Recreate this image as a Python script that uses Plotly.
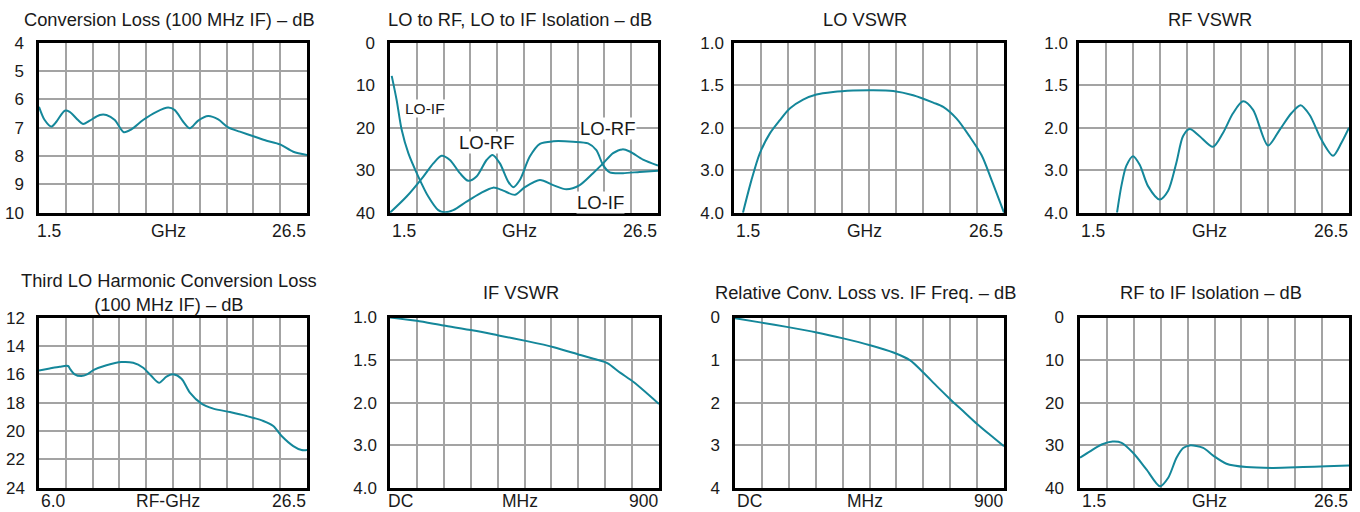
import numpy as np
import plotly.graph_objects as go

# ---------------- data ----------------
# 1) Conversion loss (dB) vs GHz
cl_ghz = [1.5, 2.03, 2.65, 3.12, 3.90, 4.36, 5.14, 5.61, 6.23, 7.17, 7.79, 8.57, 9.41, 10.12,
          11.21, 12.46, 13.55, 14.17, 14.95, 15.57, 16.35, 17.28, 18.22, 19.15, 20.24, 21.64,
          22.73, 23.98, 25.22, 26.5]
cl_db = [6.26, 6.73, 6.96, 6.79, 6.40, 6.44, 6.73, 6.87, 6.75, 6.55, 6.55, 6.73, 7.16, 7.06,
         6.73, 6.44, 6.29, 6.38, 6.79, 7.02, 6.75, 6.59, 6.71, 6.99, 7.14, 7.32, 7.46, 7.59,
         7.85, 7.96]

# 2) LO-IF and LO-RF isolation (dB) vs GHz
loif_ghz = [1.66, 2.12, 2.59, 3.21, 4.14, 5.07, 6.0, 6.62, 7.4, 8.64, 9.88, 11.13, 12.06, 13.15,
            14.08, 15.48, 16.72, 17.96, 19.2, 20.44, 21.38, 22.31, 23.18, 23.86, 25.1, 26.5]
loif_db = [7.8, 13.5, 20.5, 26.0, 31.5, 36.2, 39.4, 39.9, 39.4, 37.4, 35.5, 34.1, 34.8, 35.8,
           34.0, 32.3, 33.5, 34.5, 33.5, 30.7, 28.4, 26.0, 25.1, 25.6, 27.5, 28.9]
lorf_ghz = [1.5, 3.05, 4.61, 5.54, 6.31, 7.09, 8.02, 8.8, 9.57, 10.51, 11.07, 11.75, 12.53, 13.0,
            13.61, 14.54, 15.48, 16.72, 18.58, 19.98, 20.75, 21.38, 22.0, 23.24, 24.79, 26.5]
lorf_db = [40.0, 36.2, 31.5, 28.4, 26.6, 27.6, 30.7, 32.5, 31.5, 27.6, 26.4, 28.4, 32.7, 34.0,
           32.3, 26.8, 23.8, 23.2, 23.3, 23.7, 25.3, 28.8, 30.5, 30.7, 30.4, 30.1]

# 3) LO VSWR vs GHz
lov_ghz = [2.33, 3.11, 3.88, 4.81, 5.73, 6.66, 7.90, 9.13, 10.68, 12.53, 14.23, 16.24, 18.09,
           19.95, 20.87, 22.11, 23.35, 24.43, 25.36, 26.5]
lov_vswr = [4.0, 3.24, 2.61, 2.14, 1.915, 1.775, 1.67, 1.61, 1.58, 1.563, 1.559, 1.567, 1.618,
            1.705, 1.756, 1.894, 2.22, 2.65, 3.24, 4.0]

# 4) RF VSWR vs GHz
rfv_ghz = [5.02, 5.42, 5.88, 6.5, 7.12, 7.89, 8.97, 9.74, 10.51, 11.13, 11.75, 12.67, 13.91,
           14.83, 15.76, 16.69, 17.62, 19.0, 20.08, 21.16, 22.02, 22.86, 23.94, 25.02, 25.79, 26.5]
rfv_vswr = [4.0, 3.375, 2.9, 2.67, 2.87, 3.375, 3.69, 3.49, 2.83, 2.2, 2.03, 2.2, 2.45, 2.125,
            1.83, 1.69, 1.79, 2.42, 2.05, 1.83, 1.735, 1.85, 2.28, 2.66, 2.36, 2.0]

# 5) Third LO harmonic conversion loss (dB) vs RF GHz
h3_ghz = [6.0, 6.82, 7.58, 8.22, 8.40, 8.73, 9.24, 9.68, 10.19, 11.16, 12.31, 13.2, 13.97, 14.6,
          15.19, 15.75, 16.26, 16.9, 17.54, 18.43, 19.33, 20.6, 21.88, 23.16, 23.92, 24.56,
          25.45, 26.09, 26.5]
h3_db = [15.72, 15.58, 15.46, 15.41, 15.65, 16.0, 16.12, 16.0, 15.69, 15.36, 15.13, 15.18, 15.53,
         16.12, 16.59, 16.16, 16.0, 16.31, 17.29, 18.07, 18.42, 18.66, 18.94, 19.29, 19.65,
         20.35, 21.06, 21.34, 21.34]

# 6) IF VSWR vs MHz
ifv_mhz = [0, 89, 179, 280, 363, 458, 548, 637, 693, 727, 771, 816, 900]
ifv_vswr = [1.0, 1.039, 1.094, 1.152, 1.21, 1.277, 1.348, 1.44, 1.496, 1.535, 1.65, 1.76, 2.03]

# 7) Relative conversion loss (dB) vs IF MHz
rcl_mhz = [0, 89, 173, 273, 362, 452, 530, 585, 630, 675, 719, 764, 809, 853, 900]
rcl_db = [0.02, 0.12, 0.22, 0.35, 0.49, 0.65, 0.82, 1.0, 1.29, 1.61, 1.91, 2.2, 2.49, 2.75, 3.02]

# 8) RF to IF isolation (dB) vs GHz
rfif_ghz = [1.5, 2.43, 3.51, 4.53, 5.37, 6.45, 7.69, 8.93, 9.70, 10.47, 11.09, 11.71, 12.95,
            13.88, 15.11, 16.97, 19.45, 22.23, 24.39, 26.5]
rfif_db = [32.9, 31.4, 29.8, 29.1, 29.4, 31.8, 35.7, 39.6, 37.6, 32.9, 30.6, 30.0, 30.6, 32.4,
           34.3, 35.1, 35.3, 35.1, 34.9, 34.7]

# axis tick labels
vswr_ticks = [1.0, 1.5, 2.0, 3.0, 4.0]
vswr_labels = ["1.0", "1.5", "2.0", "3.0", "4.0"]

titles = ["Conversion Loss (100 MHz IF) – dB", "LO to RF, LO to IF Isolation – dB", "LO VSWR",
          "RF VSWR", "Third LO Harmonic Conversion Loss<br>(100 MHz IF) – dB", "IF VSWR",
          "Relative Conv. Loss vs. IF Freq. – dB", "RF to IF Isolation – dB"]
xlabels = [("1.5", "GHz", "26.5"), ("1.5", "GHz", "26.5"), ("1.5", "GHz", "26.5"),
           ("1.5", "GHz", "26.5"), ("6.0", "RF-GHz", "26.5"), ("DC", "MHz", "900"),
           ("DC", "MHz", "900"), ("1.5", "GHz", "26.5")]


def vswr_pos(v):
    # VSWR axis of the chart is evenly spaced between its labelled values
    return np.interp(v, vswr_ticks, list(range(len(vswr_ticks))))


# ---------------- layout geometry ----------------
W, H = 1360, 512
TEAL = "#14879a"
GRID = "#a3a3a3"
FONT = "Liberation Sans, Arial, sans-serif"
TXT = "#1a1a1a"


def px(x):
    return x / W


def py(y):
    return 1 - y / H


panels = [  # left, right, top, bottom in page px
    (39, 307, 42.7, 212.7),
    (390, 658, 42.7, 212.7),
    (734, 1004, 42.7, 212.7),
    (1079, 1349, 42.7, 212.7),
    (39, 307, 317.7, 487.7),
    (390, 659, 317.5, 488),
    (735, 1004, 317.5, 488),
    (1080, 1349, 317.5, 488),
]
ystandoff = [9, 9, 4, 5, 8, 7, 9, 10]

# x ranges & grids
ghz_range = [1.5, 26.5]
ghz_grid = list(np.linspace(1.5, 26.5, 11))
rf_range = [6.0, 26.5]
rf_grid = list(np.linspace(6.0, 26.5, 11))
mhz_range = [0, 900]
mhz_grid = list(np.linspace(0, 900, 11))

yspecs = [
    dict(range=[10, 4], tickvals=[4, 5, 6, 7, 8, 9, 10], ticktext=["4", "5", "6", "7", "8", "9", "10"]),
    dict(range=[40, 0], tickvals=[0, 10, 20, 30, 40], ticktext=["0", "10", "20", "30", "40"]),
    dict(range=[4, 0], tickvals=[0, 1, 2, 3, 4], ticktext=vswr_labels),
    dict(range=[4, 0], tickvals=[0, 1, 2, 3, 4], ticktext=vswr_labels),
    dict(range=[24, 12], tickvals=[12, 14, 16, 18, 20, 22, 24], ticktext=["12", "14", "16", "18", "20", "22", "24"]),
    dict(range=[4, 0], tickvals=[0, 1, 2, 3, 4], ticktext=vswr_labels),
    dict(range=[4, 0], tickvals=[0, 1, 2, 3, 4], ticktext=["0", "1", "2", "3", "4"]),
    dict(range=[40, 0], tickvals=[0, 10, 20, 30, 40], ticktext=["0", "10", "20", "30", "40"]),
]
xspecs = [
    (ghz_range, ghz_grid), (ghz_range, ghz_grid), (ghz_range, ghz_grid), (ghz_range, ghz_grid),
    (rf_range, rf_grid), (mhz_range, mhz_grid), (mhz_range, mhz_grid), (ghz_range, ghz_grid),
]

fig = go.Figure()

series = [
    [(cl_ghz, cl_db)],
    [(loif_ghz, loif_db), (lorf_ghz, lorf_db)],
    [(lov_ghz, vswr_pos(lov_vswr))],
    [(rfv_ghz, vswr_pos(rfv_vswr))],
    [(h3_ghz, h3_db)],
    [(ifv_mhz, vswr_pos(ifv_vswr))],
    [(rcl_mhz, rcl_db)],
    [(rfif_ghz, rfif_db)],
]

annotations = []
for i, (l, r, t, b) in enumerate(panels):
    n = i + 1
    xa = "x" if n == 1 else f"x{n}"
    ya = "y" if n == 1 else f"y{n}"
    xkey = "xaxis" if n == 1 else f"xaxis{n}"
    ykey = "yaxis" if n == 1 else f"yaxis{n}"
    xr, xg = xspecs[i]
    fig.update_layout({
        xkey: dict(domain=[px(l), px(r)], anchor=ya, range=xr, tickvals=xg, automargin=False,
                   showticklabels=False, ticks="", showgrid=True, gridcolor=GRID, gridwidth=1.5,
                   showline=True, linecolor="black", linewidth=2.5, mirror=True, zeroline=False,
                   fixedrange=True),
        ykey: dict(domain=[py(b), py(t)], anchor=xa, ticks="", showgrid=True, automargin=False,
                   gridcolor=GRID, gridwidth=1.5, showline=True, linecolor="black",
                   linewidth=2.5, mirror=True, zeroline=False, ticklabelstandoff=ystandoff[i],
                   tickfont=dict(family=FONT, size=17, color=TXT), fixedrange=True,
                   **yspecs[i]),
    })
    for xs, ys in series[i]:
        fig.add_trace(go.Scatter(x=xs, y=ys, xaxis=xa, yaxis=ya, mode="lines",
                                 line=dict(color=TEAL, width=2, shape="spline", smoothing=0.8),
                                 cliponaxis=True, showlegend=False, hoverinfo="skip"))
    # title
    cx = (l + r) / 2 - 4
    if i == 4:
        ty = 292
    elif i >= 4:
        ty = 292.5
    else:
        ty = 19
    annotations.append(dict(text=titles[i], x=px(cx), y=py(ty), xref="paper", yref="paper",
                            xanchor="center", yanchor="middle", showarrow=False,
                            font=dict(family=FONT, size=18.3, color=TXT)))
    # x labels
    ly = 231 if i < 4 else 501
    left_off = -4 if i in (0, 5) else 0
    xl, xm, xrr = xlabels[i]
    annotations.append(dict(text=xl, x=px(l + left_off), y=py(ly), xref="paper", yref="paper",
                            xanchor="left", yanchor="middle", showarrow=False,
                            font=dict(family=FONT, size=17.5, color=TXT)))
    annotations.append(dict(text=xm, x=px((l + r) / 2 - 5), y=py(ly), xref="paper",
                            yref="paper", xanchor="center", yanchor="middle", showarrow=False,
                            font=dict(family=FONT, size=17.5, color=TXT)))
    annotations.append(dict(text=xrr, x=px(r + 1), y=py(ly), xref="paper", yref="paper",
                            xanchor="right", yanchor="middle", showarrow=False,
                            font=dict(family=FONT, size=17.5, color=TXT)))

# curve labels in the isolation panel
curve_labels = [("LO-IF", 4.76, 15.4, 15.5), ("LO-RF", 10.55, 23.4, 18.5),
                ("LO-RF", 21.84, 20.1, 18.5), ("LO-IF", 21.1, 37.5, 18.5)]
for txt, x, y, sz in curve_labels:
    annotations.append(dict(text=txt, x=x, y=y, xref="x2", yref="y2", showarrow=False,
                            xanchor="center", yanchor="middle", bgcolor="white", borderpad=0,
                            font=dict(family=FONT, size=sz, color=TXT)))

fig.update_layout(width=W, height=H, margin=dict(l=0, r=0, t=0, b=0, autoexpand=False),
                  paper_bgcolor="white", plot_bgcolor="white", showlegend=False,
                  annotations=annotations, font=dict(family=FONT, color=TXT))

fig.write_html("out.html", config={"displayModeBar": False},
               post_script="document.body.style.margin='0';document.body.style.overflow='hidden';")
